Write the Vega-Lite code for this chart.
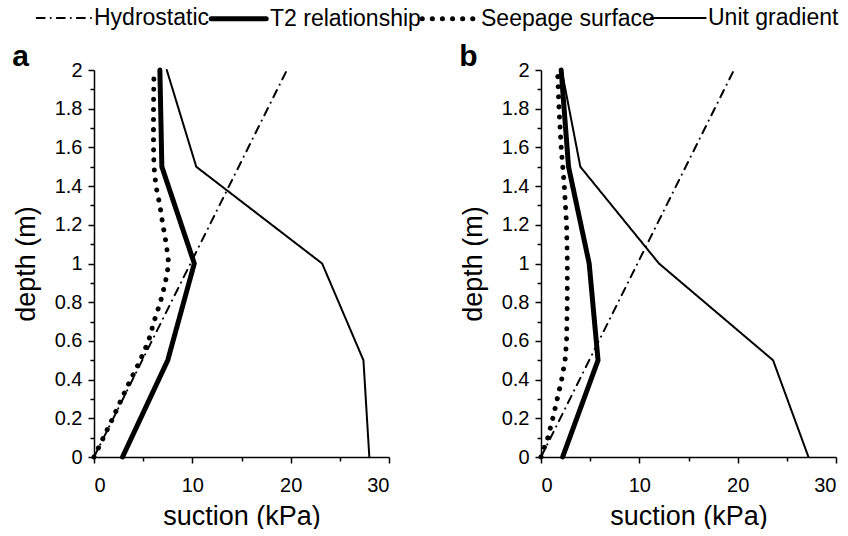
{
  "$schema": "https://vega.github.io/schema/vega-lite/v6.json",
  "background": "white",
  "padding": {"left": 12, "right": 0, "top": 5, "bottom": 0},
  "datasets": {
    "profiles": [
      {"panel": "a", "series": "Hydrostatic", "depth": 0, "suction": 0},
      {"panel": "a", "series": "Hydrostatic", "depth": 2, "suction": 19.62},
      {"panel": "a", "series": "T2 relationship", "depth": 0, "suction": 2.9},
      {"panel": "a", "series": "T2 relationship", "depth": 0.5, "suction": 7.5},
      {"panel": "a", "series": "T2 relationship", "depth": 1, "suction": 10.2},
      {"panel": "a", "series": "T2 relationship", "depth": 1.5, "suction": 6.9},
      {"panel": "a", "series": "T2 relationship", "depth": 2, "suction": 6.7},
      {"panel": "a", "series": "Seepage surface", "depth": 0, "suction": 0},
      {"panel": "a", "series": "Seepage surface", "depth": 0.1, "suction": 0.95},
      {"panel": "a", "series": "Seepage surface", "depth": 0.2, "suction": 1.9},
      {"panel": "a", "series": "Seepage surface", "depth": 0.3, "suction": 2.8},
      {"panel": "a", "series": "Seepage surface", "depth": 0.4, "suction": 3.73},
      {"panel": "a", "series": "Seepage surface", "depth": 0.5, "suction": 4.7},
      {"panel": "a", "series": "Seepage surface", "depth": 0.6, "suction": 5.55},
      {"panel": "a", "series": "Seepage surface", "depth": 0.7, "suction": 6.1},
      {"panel": "a", "series": "Seepage surface", "depth": 0.8, "suction": 6.75},
      {"panel": "a", "series": "Seepage surface", "depth": 0.9, "suction": 7.25},
      {"panel": "a", "series": "Seepage surface", "depth": 1.0, "suction": 7.6},
      {"panel": "a", "series": "Seepage surface", "depth": 1.1, "suction": 7.35},
      {"panel": "a", "series": "Seepage surface", "depth": 1.2, "suction": 7.0},
      {"panel": "a", "series": "Seepage surface", "depth": 1.3, "suction": 6.7},
      {"panel": "a", "series": "Seepage surface", "depth": 1.4, "suction": 6.3},
      {"panel": "a", "series": "Seepage surface", "depth": 1.5, "suction": 6.1},
      {"panel": "a", "series": "Seepage surface", "depth": 1.6, "suction": 6.05},
      {"panel": "a", "series": "Seepage surface", "depth": 1.8, "suction": 6.05},
      {"panel": "a", "series": "Seepage surface", "depth": 2.0, "suction": 6.1},
      {"panel": "a", "series": "Unit gradient", "depth": 0, "suction": 28.0},
      {"panel": "a", "series": "Unit gradient", "depth": 0.5, "suction": 27.4},
      {"panel": "a", "series": "Unit gradient", "depth": 1, "suction": 23.2},
      {"panel": "a", "series": "Unit gradient", "depth": 1.5, "suction": 10.4},
      {"panel": "a", "series": "Unit gradient", "depth": 2, "suction": 7.4},
      {"panel": "b", "series": "Hydrostatic", "depth": 0, "suction": 0},
      {"panel": "b", "series": "Hydrostatic", "depth": 2, "suction": 19.62},
      {"panel": "b", "series": "T2 relationship", "depth": 0, "suction": 2.2},
      {"panel": "b", "series": "T2 relationship", "depth": 0.5, "suction": 5.8},
      {"panel": "b", "series": "T2 relationship", "depth": 1, "suction": 4.9},
      {"panel": "b", "series": "T2 relationship", "depth": 1.5, "suction": 2.8},
      {"panel": "b", "series": "T2 relationship", "depth": 2, "suction": 2.05},
      {"panel": "b", "series": "Seepage surface", "depth": 0, "suction": 0},
      {"panel": "b", "series": "Seepage surface", "depth": 0.1, "suction": 0.7},
      {"panel": "b", "series": "Seepage surface", "depth": 0.2, "suction": 1.2},
      {"panel": "b", "series": "Seepage surface", "depth": 0.3, "suction": 1.65},
      {"panel": "b", "series": "Seepage surface", "depth": 0.4, "suction": 2.1},
      {"panel": "b", "series": "Seepage surface", "depth": 0.5, "suction": 2.45},
      {"panel": "b", "series": "Seepage surface", "depth": 0.6, "suction": 2.6},
      {"panel": "b", "series": "Seepage surface", "depth": 0.8, "suction": 2.67},
      {"panel": "b", "series": "Seepage surface", "depth": 1.0, "suction": 2.68},
      {"panel": "b", "series": "Seepage surface", "depth": 1.2, "suction": 2.6},
      {"panel": "b", "series": "Seepage surface", "depth": 1.4, "suction": 2.37},
      {"panel": "b", "series": "Seepage surface", "depth": 1.6, "suction": 2.05},
      {"panel": "b", "series": "Seepage surface", "depth": 1.8, "suction": 1.83},
      {"panel": "b", "series": "Seepage surface", "depth": 2.0, "suction": 1.68},
      {"panel": "b", "series": "Unit gradient", "depth": 0, "suction": 27.2},
      {"panel": "b", "series": "Unit gradient", "depth": 0.5, "suction": 23.6},
      {"panel": "b", "series": "Unit gradient", "depth": 1, "suction": 12.0},
      {"panel": "b", "series": "Unit gradient", "depth": 1.5, "suction": 4.0},
      {"panel": "b", "series": "Unit gradient", "depth": 2, "suction": 2.1}
    ]
  },
  "data": {"name": "profiles"},
  "config": {
    "view": {"stroke": null},
    "font": "Liberation Sans",
    "axis": {
      "grid": false,
      "domainColor": "black",
      "domainWidth": 1.5,
      "tickColor": "black",
      "tickWidth": 1.5,
      "tickSize": 6,
      "labelColor": "black",
      "labelFontSize": 20,
      "labelFont": "Liberation Sans",
      "titleFont": "Liberation Sans",
      "titleFontSize": 27,
      "titleFontWeight": "normal",
      "titleColor": "black"
    },
    "legend": {
      "labelFont": "Liberation Sans",
      "labelFontSize": 23,
      "labelColor": "black",
      "labelLimit": 400
    },
    "title": {"font": "Liberation Sans", "fontSize": 30, "fontWeight": "bold", "color": "black"}
  },
  "hconcat": [
    {
      "title": {"text": "a", "anchor": "start", "frame": "bounds", "offset": -12},
      "width": 295,
      "height": 387,
      "transform": [{"filter": "datum.panel == 'a'"}],
      "layer": [
        {
          "mark": {"type": "line", "color": "black", "strokeCap": "round", "strokeJoin": "round"},
          "encoding": {
            "x": {"field": "suction", "type": "quantitative", "scale": {"domain": [0, 30], "nice": false},
                  "axis": {"values": [0, 10, 20, 30], "title": "suction (kPa)", "orient": "bottom", "labelPadding": 12, "titlePadding": 8}},
            "y": {"field": "depth", "type": "quantitative", "scale": {"domain": [0, 2], "nice": false},
                  "axis": {"values": [0, 0.2, 0.4, 0.6, 0.8, 1, 1.2, 1.4, 1.6, 1.8, 2], "format": "~g", "title": "depth (m)", "orient": "left", "labelPadding": 6, "titlePadding": 14}},
            "order": {"field": "depth", "type": "quantitative"},
            "detail": {"field": "series"},
            "strokeDash": {"field": "series", "type": "nominal",
              "scale": {"domain": ["Hydrostatic", "T2 relationship", "Seepage surface", "Unit gradient"], "range": [[8, 6, 0.1, 6], [1, 0], [0.1, 10], [1, 0]]},
              "legend": {"orient": "top", "offset": 11, "title": null, "direction": "horizontal", "symbolType": "M-6.3,0H-1.3", "symbolSize": 484, "symbolOffset": 0, "labelOffset": -24, "columnPadding": -9, "symbolStrokeColor": "black",
                "encode": {"symbols": {"update": {"strokeCap": {"value": "round"}}}}}},
            "strokeWidth": {"field": "series", "type": "nominal",
              "scale": {"type": "ordinal", "domain": ["Hydrostatic", "T2 relationship", "Seepage surface", "Unit gradient"], "range": [2, 5, 5, 2]},
              "legend": {"orient": "top", "offset": 11, "title": null, "direction": "horizontal", "symbolType": "M-6.3,0H-1.3", "symbolSize": 484, "symbolOffset": 0, "labelOffset": -24, "columnPadding": -9, "symbolStrokeColor": "black",
                "encode": {"symbols": {"update": {"strokeCap": {"value": "round"}}}}}}
          }
        },
        {
          "mark": {"type": "line", "opacity": 0},
          "encoding": {
            "x": {"field": "suction", "type": "quantitative", "scale": {"domain": [0, 30], "nice": false},
                  "axis": {"values": [5, 15, 25], "labels": false, "domain": false, "tickSize": 4, "title": null, "orient": "bottom"}},
            "y": {"field": "depth", "type": "quantitative", "scale": {"domain": [0, 2], "nice": false},
                  "axis": {"values": [0.1, 0.3, 0.5, 0.7, 0.9, 1.1, 1.3, 1.5, 1.7, 1.9], "labels": false, "domain": false, "tickSize": 4, "title": null, "orient": "left"}},
            "detail": {"field": "series"}
          }
        }
      ],
      "resolve": {"axis": {"x": "independent", "y": "independent"}}
    },
    {
      "title": {"text": "b", "anchor": "start", "frame": "bounds", "offset": -12},
      "width": 295,
      "height": 387,
      "transform": [{"filter": "datum.panel == 'b'"}],
      "layer": [
        {
          "mark": {"type": "line", "color": "black", "strokeCap": "round", "strokeJoin": "round"},
          "encoding": {
            "x": {"field": "suction", "type": "quantitative", "scale": {"domain": [0, 30], "nice": false},
                  "axis": {"values": [0, 10, 20, 30], "title": "suction (kPa)", "orient": "bottom", "labelPadding": 12, "titlePadding": 8}},
            "y": {"field": "depth", "type": "quantitative", "scale": {"domain": [0, 2], "nice": false},
                  "axis": {"values": [0, 0.2, 0.4, 0.6, 0.8, 1, 1.2, 1.4, 1.6, 1.8, 2], "format": "~g", "title": "depth (m)", "orient": "left", "labelPadding": 6, "titlePadding": 14}},
            "order": {"field": "depth", "type": "quantitative"},
            "detail": {"field": "series"},
            "strokeDash": {"field": "series", "type": "nominal",
              "scale": {"domain": ["Hydrostatic", "T2 relationship", "Seepage surface", "Unit gradient"], "range": [[8, 6, 0.1, 6], [1, 0], [0.1, 10], [1, 0]]}},
            "strokeWidth": {"field": "series", "type": "nominal",
              "scale": {"type": "ordinal", "domain": ["Hydrostatic", "T2 relationship", "Seepage surface", "Unit gradient"], "range": [2, 5, 5, 2]}}
          }
        },
        {
          "mark": {"type": "line", "opacity": 0},
          "encoding": {
            "x": {"field": "suction", "type": "quantitative", "scale": {"domain": [0, 30], "nice": false},
                  "axis": {"values": [5, 15, 25], "labels": false, "domain": false, "tickSize": 4, "title": null, "orient": "bottom"}},
            "y": {"field": "depth", "type": "quantitative", "scale": {"domain": [0, 2], "nice": false},
                  "axis": {"values": [0.1, 0.3, 0.5, 0.7, 0.9, 1.1, 1.3, 1.5, 1.7, 1.9], "labels": false, "domain": false, "tickSize": 4, "title": null, "orient": "left"}},
            "detail": {"field": "series"}
          }
        }
      ],
      "resolve": {"axis": {"x": "independent", "y": "independent"}}
    }
  ],
  "spacing": 69,
  "resolve": {"scale": {"strokeDash": "shared", "strokeWidth": "shared"}, "legend": {"strokeDash": "shared", "strokeWidth": "shared"}}
}
